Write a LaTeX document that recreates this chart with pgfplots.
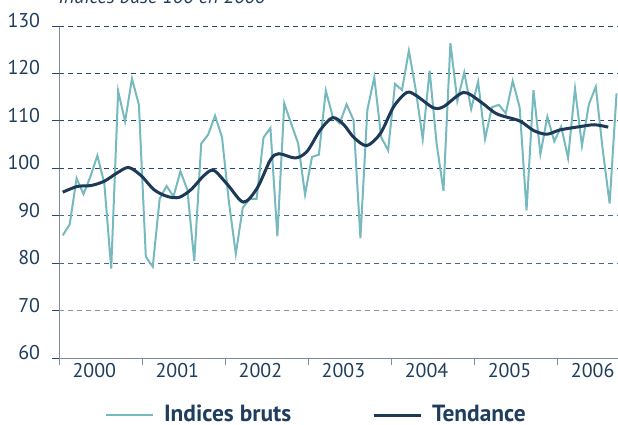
\documentclass[border=0pt]{standalone}
\usepackage{fontspec}
\setmainfont{PT Sans}
\usepackage{pgfplots}
\pgfplotsset{compat=1.18}

\definecolor{raw}{HTML}{76B9BE}
\definecolor{trend}{HTML}{1C3A57}
\definecolor{txt}{HTML}{1F3D5C}
\definecolor{axgray}{HTML}{7D8D9E}
\definecolor{gridA}{HTML}{27486A}
\definecolor{gridB}{HTML}{4A6682}
\definecolor{gridC}{HTML}{8597A8}

\begin{document}
\begin{tikzpicture}
\useasboundingbox (0bp,0bp) rectangle (618bp,-425bp);
\clip (0bp,0bp) rectangle (618bp,-425bp);
% title, cut off at the top in the original
\node[anchor=base west, inner sep=0pt, text=txt,
      font=\fontsize{20}{24}\selectfont\itshape] at (58.3bp,-3.5bp) {Indices base 100 en 2000};
\begin{axis}[
    at={(59.3bp,-358.3bp)}, anchor=south west,
    scale only axis, width=558.7bp, height=332.3bp,
    xmin=0, xmax=80.71, ymin=60, ymax=130,
    axis lines*=left,
    axis line style={draw=axgray, line width=1.5bp},
    tick align=outside, major tick length=7bp,
    xtick={0,12,...,72}, xticklabels={},
    x tick style={draw=axgray, line width=1.2bp},
    extra x ticks={5.05,17.05,29.05,41.05,53.05,65.05,77.05},
    extra x tick labels={2000,2001,2002,2003,2004,2005,2006},
    extra x tick style={major tick length=0pt,
        xticklabel style={anchor=base, inner sep=0pt, yshift=-19.5bp}},
    ytick={60,70,...,130},
    y tick style={draw=gridA, line width=1bp},
    yticklabel style={anchor=base east, inner sep=0pt, xshift=-12bp, yshift=-1.5bp},
    ticklabel style={font=\fontsize{20}{24}\selectfont, text=txt},
    /pgf/number format/assume math mode=true,
    legend columns=2,
    legend style={at={(0.0818,-0.195)}, anchor=south west, draw=none, fill=none,
        inner sep=0pt, outer sep=0pt, column sep=10bp,
        font=\fontsize{23.5}{26}\selectfont\bfseries, text=txt,
        nodes={inner sep=0pt}},
    /tikz/every even column/.append style={column sep=81bp},
    legend image code/.code={\draw[#1] (0bp,-1bp) -- (47bp,-1bp);},
]
% dashed grid, darker at the top
\draw[gridA, line width=1.1bp, dash pattern=on 5bp off 4bp] (axis cs:0,130) -- (axis cs:80.71,130);
\draw[gridA, line width=1.1bp, dash pattern=on 5bp off 4bp] (axis cs:0,120) -- (axis cs:80.71,120);
\draw[gridA, line width=1.1bp, dash pattern=on 5bp off 4bp] (axis cs:0,110) -- (axis cs:80.71,110);
\draw[gridA, line width=1.1bp, dash pattern=on 5bp off 4bp] (axis cs:0,100) -- (axis cs:80.71,100);
\draw[gridB, line width=1.1bp, dash pattern=on 5bp off 4bp] (axis cs:0,90) -- (axis cs:80.71,90);
\draw[gridB, line width=1.1bp, dash pattern=on 5bp off 4bp] (axis cs:0,80) -- (axis cs:80.71,80);
\draw[gridC, line width=1.1bp, dash pattern=on 5bp off 4bp] (axis cs:0,70) -- (axis cs:80.71,70);

% raw monthly indices, Jan 2000 - Sep 2006
\addplot[raw, line width=2bp] coordinates {
 (0.5,85.9) (1.5,88.2) (2.5,97.9) (3.5,94.6) (4.5,98.3) (5.5,102.7)
 (6.5,96.9) (7.5,78.9) (8.5,116.3) (9.5,109.9) (10.5,118.9) (11.5,113.4)
 (12.5,81.4) (13.5,79.3) (14.5,93.6) (15.5,96.3) (16.5,94.1) (17.5,99.4)
 (18.5,95.5) (19.5,80.5) (20.5,105.2) (21.5,107.1) (22.5,111.1) (23.5,106.6)
 (24.5,93.0) (25.5,82.0) (26.5,91.7) (27.5,93.6) (28.5,93.6) (29.5,106.5)
 (30.5,108.5) (31.5,85.7) (32.5,113.7) (33.5,109.4) (34.5,105.3) (35.5,94.5)
 (36.5,102.4) (37.5,102.9) (38.5,116.4) (39.5,110.9) (40.5,109.5) (41.5,113.5)
 (42.5,110.2) (43.5,85.3) (44.5,112.3) (45.5,119.2) (46.5,106.6) (47.5,103.8)
 (48.5,117.8) (49.5,116.5) (50.5,124.8) (51.5,116.5) (52.5,106.2) (53.5,120.6)
 (54.5,105.3) (55.5,95.3) (56.5,126.4) (57.5,114.2) (58.5,120.2) (59.5,112.5)
 (60.5,118.3) (61.5,106.2) (62.5,112.9) (63.5,113.4) (64.5,111.6) (65.5,118.4)
 (66.5,112.9) (67.5,91.2) (68.5,116.5) (69.5,103.0) (70.5,110.9) (71.5,105.7)
 (72.5,108.8) (73.5,102.2) (74.5,116.8) (75.5,104.8) (76.5,113.5) (77.5,117.2)
 (78.5,104.0) (79.5,92.6) (80.5,115.8)
};
\addlegendentry{Indices bruts}

% trend
\addplot[trend, line width=3bp, smooth] coordinates {
 (0.5,95.0) (2.6,96.2) (4.6,96.4) (6.5,97.3) (8.3,99.0) (10.0,100.2)
 (11.8,98.5) (13.7,95.5) (15.6,94.1) (17.3,93.9) (19.0,95.5) (20.9,98.5)
 (22.3,99.6) (24.3,96.6) (26.6,92.9) (28.6,95.9) (30.5,101.8) (31.7,103.1)
 (34.1,102.2) (35.8,103.6) (37.7,108.1) (39.5,110.7) (41.1,109.2) (42.5,106.6)
 (44.4,104.8) (46.4,107.4) (48.3,113.0) (50.2,116.0) (51.6,115.3) (54.0,112.8)
 (55.5,113.0) (58.4,116.0) (60.8,114.1) (63.2,111.5) (66.5,110.0) (68.5,108.0)
 (70.4,107.2) (72.3,108.1) (75.2,108.8) (77.3,109.2) (79.3,108.7)
};
\addlegendentry{Tendance}
\end{axis}
\end{tikzpicture}
\end{document}
